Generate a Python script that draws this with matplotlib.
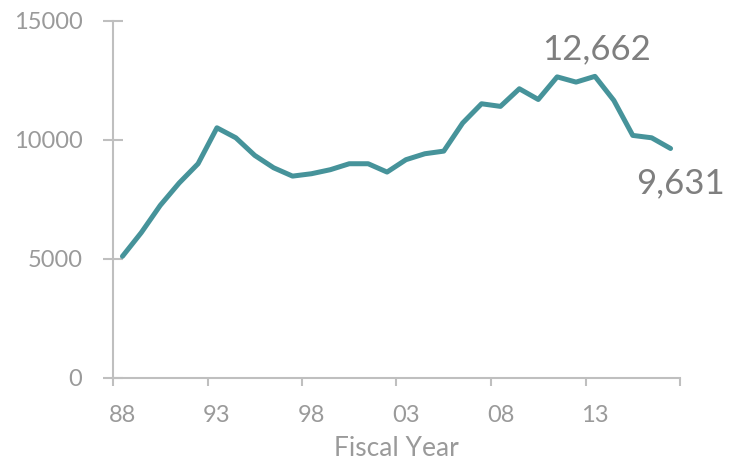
import matplotlib
matplotlib.use("Agg")
import matplotlib.pyplot as plt

years = list(range(1988, 2018))
values = [5100, 6100, 7240, 8180, 8990, 10500, 10080, 9340, 8820, 8470,
          8570, 8740, 8990, 8990, 8640, 9160, 9410, 9520, 10700, 11510,
          11400, 12140, 11690, 12640, 12420, 12662, 11650, 10180, 10080, 9631]
tick_labels = ["88", "93", "98", "03", "08", "13"]
yticks = [0, 5000, 10000, 15000]
annot_peak = ("12,662", 25, 12662)
annot_last = ("9,631", 29, 9631)

plt.rcParams['font.family'] = ['Lato', 'DejaVu Sans']

fig = plt.figure(figsize=(7.42, 4.63), dpi=100)
ax = fig.add_axes([113/742, 1-377.7/463, (680-113)/742, (377.7-20.7)/463])

x = list(range(len(years)))
ax.plot(x, values, color="#46939A", lw=3.6, solid_joinstyle="round", solid_capstyle="round")

ax.set_xlim(-0.5, len(years) - 0.5)
ax.set_ylim(0, 15000)

axis_col = "#BFBFBF"
text_col = "#9A9A9A"
for s in ["top", "right"]:
    ax.spines[s].set_visible(False)
for s in ["left", "bottom"]:
    ax.spines[s].set_color(axis_col)
    ax.spines[s].set_linewidth(1.5)

ax.set_yticks(yticks)
ax.set_yticklabels([str(v) for v in yticks])
ax.tick_params(axis="y", direction="inout", length=14, width=1.5, color=axis_col,
               labelcolor=text_col, labelsize=17, pad=15)

# major ticks at category boundaries (every 5), labels at category centers
ax.set_xticks([-0.5 + 5 * k for k in range(7)])
ax.set_xticklabels([""] * 7)
ax.tick_params(axis="x", which="major", direction="out", length=6, width=1.5, color=axis_col)
ax.set_xticks([5 * k for k in range(len(tick_labels))], minor=True)
ax.set_xticklabels(tick_labels, minor=True)
ax.tick_params(axis="x", which="minor", length=0, labelcolor=text_col, labelsize=17, pad=20)

ax.set_xlabel("Fiscal Year", color=text_col, fontsize=19, labelpad=7)

ax.annotate(annot_peak[0], (annot_peak[1], annot_peak[2]), xytext=(2, 17),
            textcoords="offset pixels", ha="center", va="baseline",
            fontsize=25, color="#7F7F7F")
ax.annotate(annot_last[0], (annot_last[1], annot_last[2]), xytext=(10, -45),
            textcoords="offset pixels", ha="center", va="baseline",
            fontsize=25, color="#7F7F7F")

fig.savefig("out.png", dpi=100)
